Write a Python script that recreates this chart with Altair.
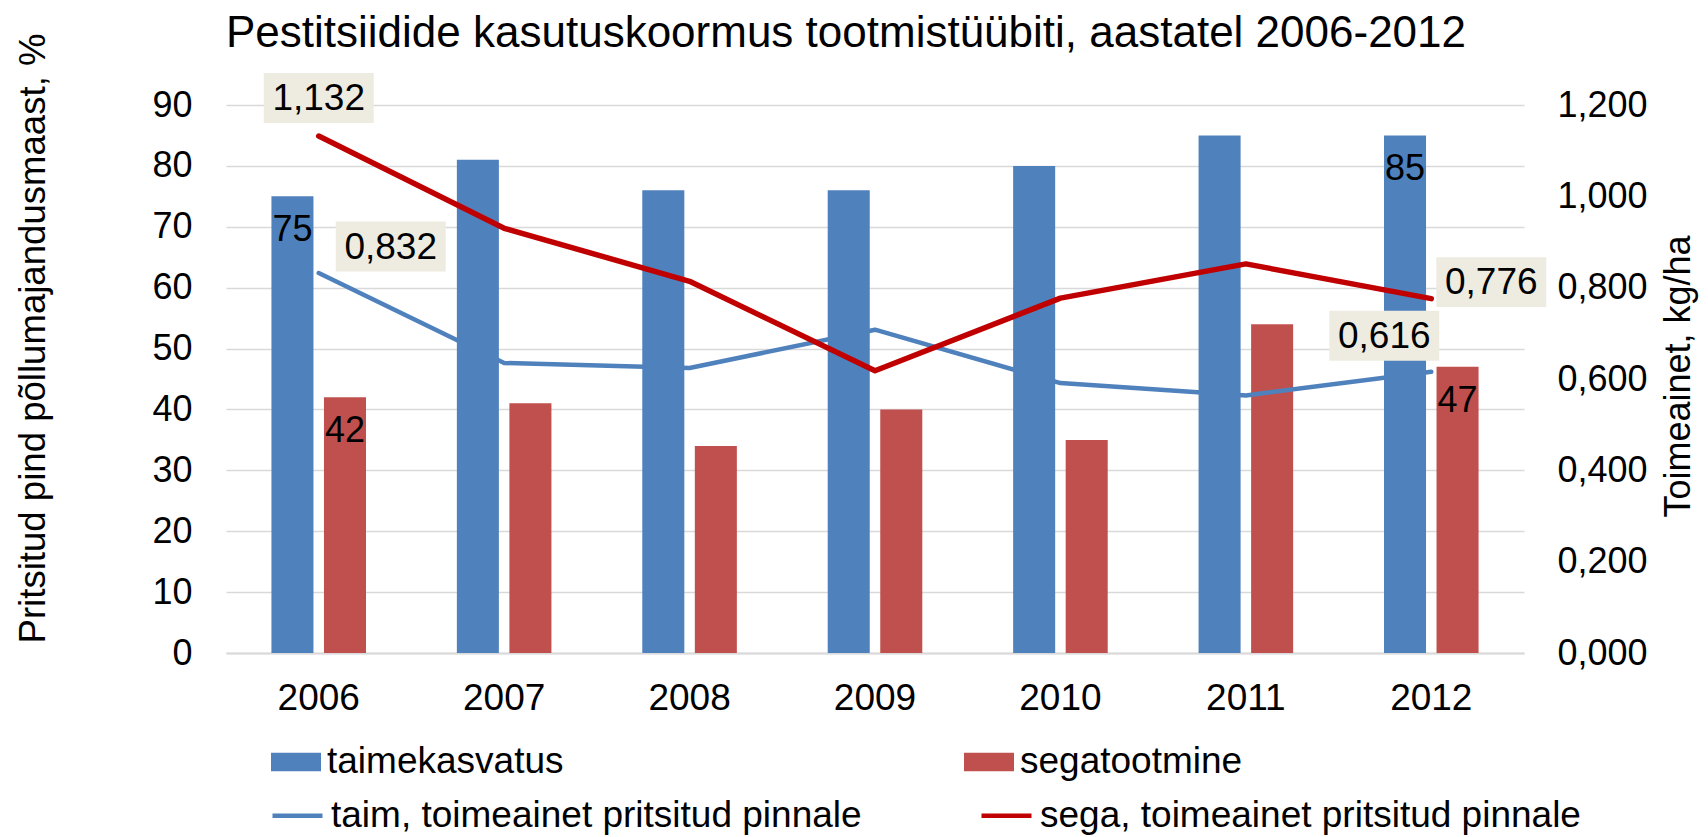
import altair as alt
import pandas as pd

# ---- data ----
years = ["2006", "2007", "2008", "2009", "2010", "2011", "2012"]
taim_area = [75, 81, 76, 76, 80, 85, 85]          # % taimekasvatus
sega_area = [42, 41, 34, 40, 35, 54, 47]          # % segatootmine
taim_ai = [0.832, 0.635, 0.624, 0.708, 0.591, 0.564, 0.616]   # kg/ha
sega_ai = [1.132, 0.930, 0.814, 0.618, 0.777, 0.852, 0.776]   # kg/ha

bar_series = ["taimekasvatus", "segatootmine"]
line_series = ["taim, toimeainet pritsitud pinnale", "sega, toimeainet pritsitud pinnale"]
bar_colors = ["#4F81BD", "#C0504D"]
line_colors = ["#4F81BD", "#C00000"]
left_ticks = [0, 10, 20, 30, 40, 50, 60, 70, 80, 90]
right_ticks = [0, 0.2, 0.4, 0.6, 0.8, 1.0, 1.2]

bars_df = pd.DataFrame({
    "year": years * 2,
    "series": [bar_series[0]] * len(years) + [bar_series[1]] * len(years),
    "value": taim_area + sega_area,
})
lines_df = pd.DataFrame({
    "year": years * 2,
    "series": [line_series[0]] * len(years) + [line_series[1]] * len(years),
    "value": taim_ai + sega_ai,
})

FONT = "Liberation Sans"
FS = 36
FS_BIG = 37
GRID = "#D9D9D9"

x_enc = alt.X(
    "year:N", title=None, sort=years,
    scale=alt.Scale(paddingInner=0.49, paddingOuter=0.245),
    axis=alt.Axis(labelFontSize=FS_BIG, labelPadding=27, ticks=False, labelAngle=0,
                  domainColor=GRID, domainWidth=2, grid=False, labelColor="black",
                  labelFont=FONT),
)

yl_axis = alt.Axis(
    orient="left", values=left_ticks, grid=True, gridColor=GRID, gridWidth=1.5,
    domain=False, ticks=False, labelFontSize=FS, labelPadding=34, labelColor="black",
    labelFont=FONT,
    title="Pritsitud pind põllumajandusmaast, %", titleFontSize=36.6,
    titleFontWeight="normal", titleColor="black", titleFont=FONT, titleAngle=270,
    titleAlign="center", titleBaseline="alphabetic", titleX=-182, titleY=233,
)
y_left = alt.Y("value:Q", scale=alt.Scale(domain=[0, 90], nice=False), axis=yl_axis)

yr_axis = alt.Axis(
    orient="right", values=right_ticks, grid=False, domain=False, ticks=False,
    labelExpr="replace(format(datum.value, '.3f'), '.', ',')",
    labelFontSize=FS, labelPadding=33, labelColor="black", labelFont=FONT,
    title="Toimeainet,  kg/ha", titleFontSize=FS, titleFontWeight="normal",
    titleColor="black", titleFont=FONT, titleAngle=270, titleAlign="center",
    titleBaseline="alphabetic", titleX=165, titleY=271,
)
y_right = alt.Y("value:Q", scale=alt.Scale(domain=[0, 1.2], nice=False), axis=yr_axis)

bars = alt.Chart(bars_df).mark_bar().encode(
    x=x_enc,
    xOffset=alt.XOffset("series:N", sort=bar_series,
                        scale=alt.Scale(paddingInner=0.2, paddingOuter=0)),
    y=y_left,
    fill=alt.Fill(
        "series:N", sort=bar_series,
        scale=alt.Scale(domain=bar_series, range=bar_colors),
        legend=alt.Legend(
            title=None, orient="none", legendX=45, legendY=632, direction="horizontal",
            symbolType="M-1,-0.37H1V0.37H-1Z", symbolSize=2500, symbolStrokeWidth=0,
            labelFontSize=FS_BIG, labelFont=FONT, labelColor="black", labelOffset=6,
            labelLimit=900, columnPadding=400, padding=0,
        ),
    ),
)

bar_labels = alt.Chart(bars_df).transform_filter(
    "datum.year == '2006' || datum.year == '2012'"
).mark_text(baseline="alphabetic", align="center", dy=45, fontSize=FS, font=FONT,
            color="black").encode(
    x=x_enc,
    xOffset=alt.XOffset("series:N", sort=bar_series,
                        scale=alt.Scale(paddingInner=0.2, paddingOuter=0)),
    y=y_left,
    text=alt.Text("value:Q", format="d"),
)

lines = alt.Chart(lines_df).mark_line(strokeCap="round", strokeJoin="round").encode(
    x=x_enc,
    y=y_right,
    stroke=alt.Stroke(
        "series:N", sort=line_series,
        scale=alt.Scale(domain=line_series, range=line_colors),
        legend=alt.Legend(
            title=None, orient="none", legendX=44, legendY=683, direction="horizontal",
            symbolType="stroke", symbolSize=2500, symbolStrokeWidth=4.5,
            labelFontSize=FS_BIG, labelFont=FONT, labelColor="black", labelOffset=6,
            labelLimit=900, columnPadding=110, padding=0,
        ),
    ),
    strokeWidth=alt.condition(alt.datum.series == line_series[1],
                              alt.value(5.5), alt.value(4.5)),
)

# label placements (series, year, dx, dy)
label_specs = [
    (line_series[1], "2006", 0, -38),
    (line_series[0], "2006", 72, -26.5),
    (line_series[1], "2012", 60, -16.5),
    (line_series[0], "2012", -47, -36),
]

label_layers = []
for ser, yr, dx, dy in label_specs:
    base = alt.Chart(lines_df).transform_filter(
        (alt.datum.series == ser) & (alt.datum.year == yr)
    ).transform_calculate(
        label="replace(format(datum.value, '.3f'), '.', ',')"
    )
    box = base.mark_point(
        shape="M-1,-0.4545H1V0.4545H-1Z", size=12100, filled=True,
        fill="#EEECE1", opacity=1, strokeWidth=0, xOffset=dx, yOffset=dy,
    ).encode(x=x_enc, y=y_right)
    txt = base.mark_text(
        align="center", baseline="middle", dx=dx, dy=dy + 1, fontSize=FS_BIG,
        font=FONT, color="black",
    ).encode(x=x_enc, y=y_right, text="label:N")
    label_layers += [box, txt]

left = alt.layer(bars, bar_labels)
right = alt.layer(lines, *label_layers)

chart = alt.layer(left, right).resolve_scale(y="independent").properties(
    width=1298, height=548,
    autosize=alt.AutoSizeParams(type="none"),
    padding={"left": 218, "top": 97, "right": 176, "bottom": 184},
    title=alt.TitleParams(
        "Pestitsiidide kasutuskoormus tootmistüübiti, aastatel 2006-2012",
        anchor="start", frame="group", fontSize=44, font=FONT,
        fontWeight="normal", color="black", offset=-58, baseline="alphabetic",
    ),
).configure(font=FONT).configure_view(stroke=None, strokeWidth=0)

chart.save("out.html", embed_options={"renderer": "svg", "actions": False})
